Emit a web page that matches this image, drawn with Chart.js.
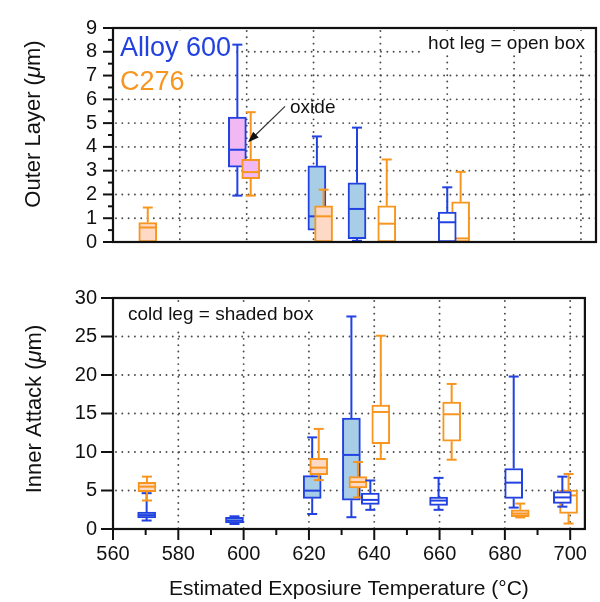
<!DOCTYPE html>
<html>
<head>
<meta charset="utf-8">
<script src="https://cdn.jsdelivr.net/npm/chart.js@4.4.1/dist/chart.umd.min.js"></script>
<style>
  body { margin: 0; background: #fff; }
  .panel { position: absolute; left: 0; width: 600px; }
  #outerWrap { top: 0; height: 270px; }
  #innerWrap { top: 270px; height: 332px; }
</style>
</head>
<body>
<div class="panel" id="outerWrap"><canvas id="outerChart"></canvas></div>
<div class="panel" id="innerWrap"><canvas id="innerChart"></canvas></div>
<script>
// Box rows: [temperature °C, whisker low, Q1, median, Q3, whisker high]
// Outer layer thickness (µm)
const outerAlloy600Oxide = [[597.2, 1.95, 3.15, 3.88, 5.25, 8.3]];
const outerC276Oxide = [[601.2, 1.95, 2.66, 2.94, 3.48, 5.46]];
const outerAlloy600Cold = [[621.0, 0.5, 0.5, 1.08, 3.2, 4.44], [633.0, 0.05, 0.14, 1.39, 2.49, 4.81]];
const outerC276Cold = [[570.4, 0, 0, 0.61, 0.82, 1.45], [623.0, 0, 0, 1.08, 1.52, 2.2]];
const outerAlloy600Hot = [[660.0, 0, 0, 0.83, 1.26, 2.3]];
const outerC276Hot = [[641.9, 0, 0, 0.77, 1.52, 3.47], [664.0, 0, 0, 0.15, 1.69, 2.95]];

// Inner attack depth (µm)
const innerAlloy600Cold = [[570.3, 1.1, 1.45, 1.8, 2.2, 4.65], [597.2, 0.65, 0.8, 1.1, 1.5, 1.65],
                           [621.0, 1.95, 3.98, 4.98, 6.93, 11.9], [633.0, 1.53, 3.73, 9.62, 14.4, 27.6]];
const innerC276Cold = [[570.4, 3.7, 4.86, 5.5, 6.05, 6.8], [623.0, 6.35, 7.05, 7.97, 9.17, 13.0],
                       [635.0, 4.1, 5.35, 6.1, 6.8, 8.7], [684.7, 1.5, 1.6, 2.0, 2.5, 3.3]];
const innerAlloy600Hot = [[638.8, 2.49, 3.2, 3.78, 4.65, 6.3], [659.7, 2.49, 3.07, 3.69, 4.15, 6.64],
                          [682.7, 2.78, 3.98, 6.02, 7.86, 19.8], [697.6, 2.9, 3.32, 4.1, 4.85, 6.8]];
const innerC276Hot = [[642.0, 9.09, 11.08, 15.2, 16.1, 25.1], [663.7, 9.0, 11.41, 14.9, 16.47, 18.84],
                      [699.5, 0.71, 2.03, 4.36, 5.07, 7.14]];

const tempTicks = [560, 580, 600, 620, 640, 660, 680, 700];
const tempMinorTicks = [570, 590, 610, 630, 650, 670, 690];
const outerTicks = [0, 1, 2, 3, 4, 5, 6, 7, 8, 9];
const outerMinorTicks = [0.5, 1.5, 2.5, 3.5, 4.5, 5.5, 6.5, 7.5, 8.5];
const innerTicks = [0, 5, 10, 15, 20, 25, 30];

// arrow pointing at the oxide boxes: [temperature, value]
const oxideTip = [600.4, 4.19];

const BLUE = '#2141e0';
const ORANGE = '#f7961f';
const SKY = '#a8cde6';
const PEACH = '#fdd9c6';
const ORCHID = '#f1b8f3';
const BOX_W = 18;
const CAP_W = 10;
const FONT = '"Liberation Sans", Arial, Helvetica, sans-serif';

Chart.defaults.font.family = FONT;
Chart.defaults.color = '#111';

function boxSet(label, rows, edge, fill, order) {
    return {
        label, order, rows,
        data: rows.map(r => ({ x: r[0], y: [r[2], r[4]] })),
        backgroundColor: fill,
        borderColor: edge,
        borderWidth: 2,
        borderSkipped: false,
        barThickness: BOX_W,
        grouped: false
    };
}

// whiskers, caps and median line for each box, drawn right after its dataset
const whiskers = {
    id: 'whiskers',
    afterDatasetDraw(chart, args) {
        const ds = chart.data.datasets[args.index];
        const { ctx, chartArea: a, scales: { x, y } } = chart;
        const seg = (x0, y0, x1, y1) => { ctx.beginPath(); ctx.moveTo(x0, y0); ctx.lineTo(x1, y1); ctx.stroke(); };
        ctx.save();
        ctx.beginPath();
        ctx.rect(a.left, a.top, a.right - a.left, a.bottom - a.top);
        ctx.clip();
        ctx.strokeStyle = ds.borderColor;
        ctx.lineWidth = 2;
        ds.rows.forEach(([t, lo, q1, med, q3, hi]) => {
            const px = x.getPixelForValue(t);
            if (hi > q3) {
                const ph = y.getPixelForValue(hi);
                seg(px, y.getPixelForValue(q3), px, ph);
                seg(px - CAP_W / 2, ph, px + CAP_W / 2, ph);
            }
            if (lo < q1) {
                const pl = y.getPixelForValue(lo);
                seg(px, y.getPixelForValue(q1), px, pl);
                seg(px - CAP_W / 2, pl, px + CAP_W / 2, pl);
            }
            const pm = y.getPixelForValue(med);
            seg(px - BOX_W / 2 + 1, pm, px + BOX_W / 2 - 1, pm);
        });
        ctx.restore();
    }
};

// dotted grid, frame, tick marks, notes and y-axis title
const decor = {
    id: 'decor',
    beforeDatasetsDraw(chart, args, o) {
        const { ctx, chartArea: a, scales: { x, y } } = chart;
        ctx.save();
        ctx.strokeStyle = '#4a4a4a';
        ctx.lineWidth = 1.9;
        ctx.lineCap = 'round';
        ctx.setLineDash([0.01, 6.3]);
        o.yGrid.forEach(v => {
            const py = y.getPixelForValue(v);
            ctx.beginPath(); ctx.moveTo(a.left + 3, py); ctx.lineTo(a.right, py); ctx.stroke();
        });
        tempTicks.slice(1).forEach(v => {
            const px = x.getPixelForValue(v);
            ctx.beginPath(); ctx.moveTo(px, a.top + 3); ctx.lineTo(px, a.bottom); ctx.stroke();
        });
        ctx.setLineDash([]);
        ctx.textBaseline = 'alphabetic';
        o.notes.forEach(n => {
            ctx.font = n.size + 'px ' + FONT;
            const w = ctx.measureText(n.text).width;
            const left = n.align === 'right' ? a.right - n.dx - w : a.left + n.dx;
            const base = a.top + n.dy;
            ctx.fillStyle = '#fff';
            ctx.fillRect(left - 5, base - n.size * 0.95, w + 10, n.size * 0.95 + n.below);
            ctx.fillStyle = n.color;
            ctx.textAlign = 'left';
            ctx.fillText(n.text, left, base);
        });
        ctx.restore();
    },
    afterDraw(chart, args, o) {
        const { ctx, chartArea: a, scales: { x, y } } = chart;
        const seg = (x0, y0, x1, y1) => { ctx.beginPath(); ctx.moveTo(x0, y0); ctx.lineTo(x1, y1); ctx.stroke(); };
        ctx.save();
        ctx.strokeStyle = '#111';
        ctx.lineWidth = 2.2;
        ctx.strokeRect(a.left, a.top, a.right - a.left, a.bottom - a.top);
        ctx.lineWidth = 2;
        o.yMajor.forEach(v => { const py = y.getPixelForValue(v); seg(a.left - o.yTick, py, a.left, py); });
        o.yMinor.forEach(v => { const py = y.getPixelForValue(v); seg(a.left - 5, py, a.left, py); });
        if (o.xTicks) {
            tempTicks.forEach(v => { const px = x.getPixelForValue(v); seg(px, a.bottom, px, a.bottom + 11); });
            tempMinorTicks.forEach(v => { const px = x.getPixelForValue(v); seg(px, a.bottom, px, a.bottom + 6); });
        }

        // y-axis title with italic mu
        const size = 22;
        const parts = [[o.title + ' (', 'normal'], ['\u03bc', 'italic'], ['m)', 'normal']];
        let total = 0;
        parts.forEach(p => { ctx.font = p[1] + ' ' + size + 'px ' + FONT; p.push(ctx.measureText(p[0]).width); total += p[2]; });
        ctx.translate(o.titleX, o.titleY);
        ctx.rotate(-Math.PI / 2);
        ctx.fillStyle = '#111';
        ctx.textBaseline = 'middle';
        ctx.textAlign = 'left';
        let cx = -total / 2;
        parts.forEach(p => { ctx.font = p[1] + ' ' + size + 'px ' + FONT; ctx.fillText(p[0], cx, 0); cx += p[2]; });
        ctx.restore();

        if (o.arrow) {
            const tx = x.getPixelForValue(o.arrow[0]);
            const ty = y.getPixelForValue(o.arrow[1]);
            const sx = tx + 37, sy = ty - 36;
            const ang = Math.atan2(ty - sy, tx - sx);
            ctx.save();
            ctx.strokeStyle = '#333';
            ctx.lineWidth = 1.2;
            seg(sx, sy, tx - 8 * Math.cos(ang), ty - 8 * Math.sin(ang));
            ctx.fillStyle = '#111';
            ctx.beginPath();
            ctx.moveTo(tx, ty);
            ctx.lineTo(tx - 11 * Math.cos(ang) + 4 * Math.sin(ang), ty - 11 * Math.sin(ang) - 4 * Math.cos(ang));
            ctx.lineTo(tx - 11 * Math.cos(ang) - 4 * Math.sin(ang), ty - 11 * Math.sin(ang) + 4 * Math.cos(ang));
            ctx.closePath();
            ctx.fill();
            ctx.font = '19px ' + FONT;
            ctx.textBaseline = 'alphabetic';
            ctx.fillText('oxide', sx + 5, sy + 7);
            ctx.restore();
        }
    }
};

function tempAxis(showLabels, height) {
    return {
        type: 'linear', min: 560, max: 704.5, offset: false,
        grid: { display: false, drawTicks: false },
        border: { display: false },
        afterBuildTicks: s => { s.ticks = tempTicks.map(v => ({ value: v })); },
        afterFit: s => { s.height = height; },
        ticks: { display: showLabels, padding: 13, font: { size: 20 }, maxRotation: 0, autoSkip: false },
        title: {
            display: showLabels, text: 'Estimated Exposiure Temperature (°C)',
            font: { size: 21 }, color: '#111', padding: { top: 0, bottom: 0 }
        }
    };
}

function valueAxis(max, ticks) {
    return {
        min: 0, max,
        grid: { display: false, drawTicks: false },
        border: { display: false },
        afterBuildTicks: s => { s.ticks = ticks.map(v => ({ value: v })); },
        afterFit: s => { s.width = 113; },
        ticks: { padding: 16, font: { size: 20 } }
    };
}

const common = {
    responsive: true,
    maintainAspectRatio: false,
    animation: false,
    events: []
};

new Chart(document.getElementById('outerChart'), {
    type: 'bar',
    data: {
        datasets: [
            boxSet('Alloy 600 oxide', outerAlloy600Oxide, BLUE, ORCHID, 6),
            boxSet('C276 oxide', outerC276Oxide, ORANGE, ORCHID, 5),
            boxSet('Alloy 600 cold leg', outerAlloy600Cold, BLUE, SKY, 4),
            boxSet('C276 cold leg', outerC276Cold, ORANGE, PEACH, 3),
            boxSet('C276 hot leg', outerC276Hot, ORANGE, '#fff', 2),
            boxSet('Alloy 600 hot leg', outerAlloy600Hot, BLUE, '#fff', 1)
        ]
    },
    options: {
        ...common,
        layout: { padding: { top: 18, right: 4, left: 0, bottom: 0 } },
        scales: { x: tempAxis(false, 11), y: valueAxis(9, outerTicks) },
        plugins: {
            legend: { display: false },
            tooltip: { enabled: false },
            decor: {
                yGrid: [1, 2, 3, 4, 5, 6, 7, 8],
                yMajor: outerTicks, yMinor: outerMinorTicks, yTick: 10,
                xTicks: false,
                title: 'Outer Layer', titleX: 34, titleY: 124,
                arrow: oxideTip,
                notes: [
                    { text: 'Alloy 600', color: BLUE, size: 27, dx: 7, dy: 28, below: 9 },
                    { text: 'C276', color: ORANGE, size: 27, dx: 7, dy: 62, below: 8 },
                    { text: 'hot leg = open box', color: '#111', size: 19, dx: 11, dy: 21, align: 'right', below: 5 }
                ]
            }
        }
    },
    plugins: [decor, whiskers]
});

new Chart(document.getElementById('innerChart'), {
    type: 'bar',
    data: {
        datasets: [
            boxSet('Alloy 600 cold leg', innerAlloy600Cold, BLUE, SKY, 4),
            boxSet('C276 cold leg', innerC276Cold, ORANGE, PEACH, 3),
            boxSet('C276 hot leg', innerC276Hot, ORANGE, '#fff', 2),
            boxSet('Alloy 600 hot leg', innerAlloy600Hot, BLUE, '#fff', 1)
        ]
    },
    options: {
        ...common,
        layout: { padding: { top: 18, right: 4, left: 0, bottom: 0 } },
        scales: { x: tempAxis(true, 73), y: valueAxis(30, innerTicks) },
        plugins: {
            legend: { display: false },
            tooltip: { enabled: false },
            decor: {
                yGrid: [5, 10, 15, 20, 25],
                yMajor: innerTicks, yMinor: [], yTick: 12,
                xTicks: true,
                title: 'Inner Attack', titleX: 35, titleY: 139,
                notes: [
                    { text: 'cold leg = shaded box', color: '#111', size: 19, dx: 15, dy: 22, below: 9 }
                ]
            }
        }
    },
    plugins: [decor, whiskers]
});
</script>
</body>
</html>
